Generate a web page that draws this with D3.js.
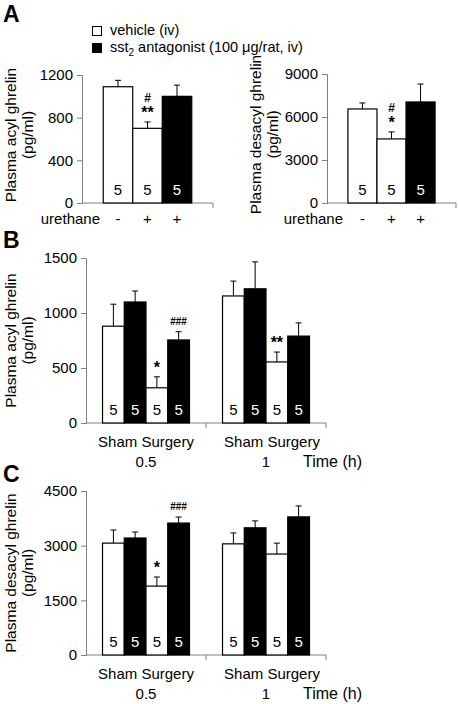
<!DOCTYPE html>
<html><head><meta charset="utf-8">
<script src="https://cdn.jsdelivr.net/npm/d3@7"></script>
<style>
body{margin:0;background:#fff;}
text{font-family:"Liberation Sans",Arial,sans-serif;fill:#000;}
</style></head>
<body>
<svg id="chart" width="458" height="704"></svg>
<script>
// ---------- DATA ----------
const legendLabels = ["vehicle (iv)", "sst2 antagonist (100 μg/rat, iv)"];
const treatments = ["vehicle", "antagonist"];

// Panel A
const urethaneLabels = ["-", "+", "+"];
const treatmentA = ["vehicle", "vehicle", "antagonist"];
const acylA_mean = [1090, 700, 1000];
const acylA_sem = [60, 60, 105];
const acylA_sig = ["", "**", ""];
const acylA_sig2 = ["", "#", ""];
const acylA_ticks = [0, 400, 800, 1200];
const desacylA_mean = [6560, 4470, 7050];
const desacylA_sem = [420, 490, 1250];
const desacylA_sig = ["", "*", ""];
const desacylA_sig2 = ["", "#", ""];
const desacylA_ticks = [0, 3000, 6000, 9000];
const nA = [5, 5, 5];

// Panels B and C
const timeLabels = ["0.5", "1"];
const surgeryLabels = ["Sham", "Sham", "Surgery", "Surgery"];
const treatmentBC = ["vehicle", "antagonist", "vehicle", "antagonist"];
const acylB_mean = [[880, 1100, 320, 755], [1155, 1220, 555, 790]];
const acylB_sem = [[200, 100, 100, 75], [135, 245, 90, 120]];
const acylB_sig = [["", "", "*", ""], ["", "", "**", ""]];
const acylB_sig2 = [["", "", "", "###"], ["", "", "", ""]];
const acylB_ticks = [0, 500, 1000, 1500];
const desacylC_mean = [[3070, 3210, 1890, 3620], [3050, 3490, 2770, 3790]];
const desacylC_sem = [[360, 165, 250, 165], [300, 190, 300, 300]];
const desacylC_sig = [["", "", "*", ""], ["", "", "", ""]];
const desacylC_sig2 = [["", "", "", "###"], ["", "", "", ""]];
const desacylC_ticks = [0, 1500, 3000, 4500];
const nBC = [5, 5, 5, 5];

// ---------- DRAW ----------
const svg = d3.select("#chart");
const AX = "#808080";
const fillOf = t => t === "vehicle" ? "#fff" : "#000";

function yAxis(g, y, ticks, x0) {
  const ax = g.append("g").attr("transform", `translate(${x0},0)`)
    .call(d3.axisLeft(y).tickValues(ticks).tickSize(5).tickPadding(4).tickFormat(d3.format("d")));
  ax.select(".domain").attr("stroke", AX);
  ax.selectAll(".tick line").attr("stroke", AX);
  ax.selectAll(".tick text").attr("font-size", 15).attr("fill", "#000")
    .attr("font-family", '"Liberation Sans",Arial,sans-serif');
}

function yLabel(g, lines, cx, cy) {
  const t = g.append("text").attr("transform", `translate(${cx},${cy}) rotate(-90)`)
    .attr("text-anchor", "middle").attr("font-size", 15.5);
  lines.forEach((l, i) => t.append("tspan").attr("x", 0).attr("dy", i === 0 ? 0 : 17).text(l));
}

function bars(g, data, x, y) {
  const gb = g.append("g");
  data.forEach(d => {
    const top = y(d.mean), etop = y(d.mean + d.sem), cx = d.x + d.w / 2;
    gb.append("line").attr("x1", cx).attr("x2", cx).attr("y1", top).attr("y2", etop).attr("stroke", "#000");
    gb.append("line").attr("x1", cx - 3).attr("x2", cx + 3).attr("y1", etop).attr("y2", etop).attr("stroke", "#000");
    gb.append("rect").attr("x", d.x).attr("y", top).attr("width", d.w).attr("height", y(0) - top)
      .attr("fill", d.fill).attr("stroke", "#000").attr("stroke-width", 1.2);
    gb.append("text").attr("x", cx).attr("y", y(0) - 8).attr("text-anchor", "middle")
      .attr("font-size", 15).style("fill", d.fill === "#000" ? "#fff" : "#000").text(d.n);
    if (d.sig) gb.append("text").attr("x", cx).attr("y", etop - 4).attr("text-anchor", "middle")
      .attr("font-size", 16).attr("font-weight", "bold").text(d.sig);
    if (d.sig2) {
      const yy = d.sig ? etop - 20 : etop - 7;
      const fs = d.sig ? 12 : 10;
      gb.append("text").attr("x", cx).attr("y", yy).attr("text-anchor", "middle")
        .attr("font-size", fs).attr("font-weight", "bold").text(d.sig2);
    }
  });
}

function xAxisLine(g, x0, x1, y0, tickXs) {
  g.append("line").attr("x1", x0).attr("x2", x1).attr("y1", y0).attr("y2", y0).attr("stroke", AX);
  tickXs.forEach(tx => g.append("line").attr("x1", tx).attr("x2", tx).attr("y1", y0).attr("y2", y0 + 5).attr("stroke", AX));
}

// Panel A
function panelA(axisX, axisEnd, y0, yTop, maxV, ticks, mean, sem, sig, sig2, labelLines, labelX, urethaneX) {
  const g = svg.append("g");
  const y = d3.scaleLinear().domain([0, maxV]).range([y0, yTop]);
  const x = d3.scaleBand().domain(d3.range(mean.length)).range([axisX, axisEnd]).paddingInner(0).paddingOuter(0.72);
  yAxis(g, y, ticks, axisX);
  xAxisLine(g, axisX, axisEnd, y0, [axisEnd]);
  bars(g, mean.map((m, i) => ({x: x(i), w: x.bandwidth(), mean: m, sem: sem[i], fill: fillOf(treatmentA[i]), n: nA[i], sig: sig[i], sig2: sig2[i]})), x, y);
  urethaneLabels.forEach((u, i) => g.append("text").attr("x", x(i) + x.bandwidth() / 2).attr("y", y0 + 21)
    .attr("text-anchor", "middle").attr("font-size", 15).text(u));
  g.append("text").attr("x", urethaneX).attr("y", y0 + 21).attr("text-anchor", "end").attr("font-size", 15).text("urethane");
  yLabel(g, labelLines, labelX, (y0 + yTop) / 2 - 4);
}

panelA(82, 213, 203, 75, 1200, acylA_ticks, acylA_mean, acylA_sem, acylA_sig, acylA_sig2,
  ["Plasma acyl ghrelin", "(pg/ml)"], 16, 100);
panelA(327, 456, 203, 74, 9000, desacylA_ticks, desacylA_mean, desacylA_sem, desacylA_sig, desacylA_sig2,
  ["Plasma desacyl ghrelin", "(pg/ml)"], 261, 343);

// Panels B & C
function panelBC(y0, yTop, maxV, ticks, mean, sem, sig, sig2, labelLines) {
  const g = svg.append("g");
  const axisX = 86, axisEnd = 326;
  const y = d3.scaleLinear().domain([0, maxV]).range([y0, yTop]);
  const x0 = d3.scaleBand().domain(timeLabels).range([axisX, axisEnd]);
  const x1 = d3.scaleBand().domain(d3.range(4)).range([0, x0.bandwidth()]).paddingInner(0).paddingOuter(0.76);
  yAxis(g, y, ticks, axisX);
  xAxisLine(g, axisX, axisEnd, y0, [x0(timeLabels[1]), axisEnd]);
  timeLabels.forEach((t, gi) => {
    bars(g, mean[gi].map((m, i) => ({x: x0(t) + x1(i), w: x1.bandwidth(), mean: m, sem: sem[gi][i],
      fill: fillOf(treatmentBC[i]), n: nBC[i], sig: sig[gi][i], sig2: sig2[gi][i]})), x1, y);
    const cx = x0(t) + x0.bandwidth() / 2;
    g.append("text").attr("x", cx + (gi === 1 ? 6 : 0)).attr("y", y0 + 24).attr("text-anchor", "middle").attr("font-size", 15)
      .text(surgeryLabels[0] + "  " + surgeryLabels[2]);
    g.append("text").attr("x", cx).attr("y", y0 + 44).attr("text-anchor", "middle").attr("font-size", 15).text(t);
  });
  g.append("text").attr("x", 303).attr("y", y0 + 44).attr("font-size", 16).text("Time (h)");
  yLabel(g, labelLines, 16, (y0 + yTop) / 2);
}

panelBC(423, 258, 1500, acylB_ticks, acylB_mean, acylB_sem, acylB_sig, acylB_sig2, ["Plasma acyl ghrelin", "(pg/ml)"]);
panelBC(655, 491, 4500, desacylC_ticks, desacylC_mean, desacylC_sem, desacylC_sig, desacylC_sig2, ["Plasma desacyl ghrelin", "(pg/ml)"]);

// Panel letters
[["A", 22], ["B", 248], ["C", 482]].forEach(([l, yy]) =>
  svg.append("text").attr("x", 3).attr("y", yy).attr("font-size", 23).attr("font-weight", "bold").text(l));

// Legend
legendLabels.forEach((l, i) => {
  const yy = 26 + i * 17;
  svg.append("rect").attr("x", 92.5).attr("y", yy + 0.5).attr("width", 9).attr("height", 9)
    .attr("fill", fillOf(treatments[i])).attr("stroke", "#000");
  const t = svg.append("text").attr("x", 110).attr("y", yy + 9).attr("font-size", 14.5);
  if (i === 1) {
    t.append("tspan").text("sst");
    t.append("tspan").attr("font-size", 10).attr("dy", 4).text("2");
    t.append("tspan").attr("dy", -4).text(" antagonist (100 μg/rat, iv)");
  } else t.text(l);
});
</script>
</body></html>
